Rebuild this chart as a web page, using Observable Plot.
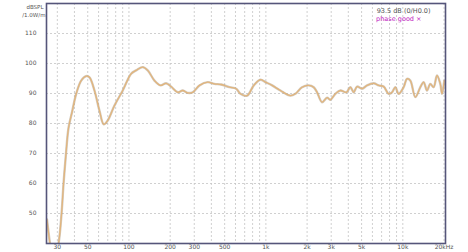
<!DOCTYPE html>
<html>
<head>
<meta charset="utf-8">
<script src="https://cdn.jsdelivr.net/npm/d3@7"></script>
<script src="https://cdn.jsdelivr.net/npm/@observablehq/plot@0.6"></script>
<style>
  html, body { margin: 0; padding: 0; background: #fff; }
  #chart svg { display: block; }
</style>
</head>
<body>
<div id="chart"></div>
<script>
// Frequency (Hz)
const freqs = [25.2, 26.5, 28.1, 30.6, 32.2, 33.3, 34.7, 36.2, 38.5, 41.2, 44.8, 48.7, 51.5, 56.0, 60.9, 65.5, 70.0, 78.4, 90.1,
  103.8, 112.9, 126.2, 137.2, 153.6, 169.9, 186.9, 203.2, 227.2, 247.1, 268.8, 292.3, 327.1, 376.0, 420.9, 471.1, 541.9, 606.5,
  651.8, 729.6, 815.4, 912.6, 992.5, 1110.8, 1276.7, 1509.6, 1642.3, 1837.7, 2054, 2234, 2366, 2572, 2799, 2958, 3217, 3500,
  3871, 4140, 4376, 4633, 5039, 5482, 6124, 6662, 7245, 7882, 8345, 8819, 9322, 10139, 10734, 11345, 12341, 13424, 14190,
  15023, 15880, 16786, 17772, 18786, 19330, 20090];
// SPL (dB)
const spl = [48, 40, 33, 40, 50, 60, 70, 78.5, 84, 89.9, 94.3, 95.8, 95.4, 91, 84.3, 79.7, 81, 86, 91,
  96.6, 97.7, 98.8, 97.7, 94.3, 92.7, 93.4, 92.3, 90.4, 91, 90.2, 90.4, 92.7, 93.8, 93.2, 93, 92.1, 91.6,
  89.9, 89.3, 92.7, 94.6, 93.8, 92.7, 91, 89.3, 89.9, 92.1, 92.7, 92.1, 90.4, 87.1, 88.6, 87.9, 89.9, 91,
  90.4, 92.1, 90.4, 92.3, 91.6, 92.7, 93.4, 92.7, 92.3, 89.9, 90.4, 92.1, 89.9, 92.1, 94.9, 94.3, 88.8, 92.1, 93.8,
  91, 93.2, 92.1, 96, 93.2, 89.9, 94.3];

const xTickValues = [30, 50, 100, 200, 300, 500, 1000, 2000, 3000, 5000, 10000, 20000];
const xTickLabels = ["30", "50", "100", "200", "300", "500", "1k", "2k", "3k", "5k", "10k", "20kHz"];
const xGridValues = [30, 40, 50, 60, 70, 80, 90, 100, 200, 300, 400, 500, 600, 700, 800, 900,
  1000, 2000, 3000, 4000, 5000, 6000, 7000, 8000, 9000, 10000, 20000];
const yTickValues = [50, 60, 70, 80, 90, 100, 110];
const yUnitLines = ["dBSPL", "/1.0W/m"];
const infoLine = "93.5 dB (0/H0.0)";
const phaseLine = "phase good ×";

const data = freqs.map((f, i) => ({f, db: spl[i]}));
const xTicks = xTickValues.map((v, i) => ({v, label: xTickLabels[i]}));

const plot = Plot.plot({
  width: 468,
  height: 252,
  marginLeft: 46,
  marginRight: 23,
  marginTop: 3,
  marginBottom: 9,
  style: {fontFamily: "'DejaVu Sans', Verdana, sans-serif", fontSize: "6px", background: "#fff", color: "#555"},
  x: {type: "log", domain: [25, 20500], axis: null},
  y: {domain: [40, 120]},
  marks: [
    Plot.gridX(xGridValues, {stroke: "#c4c4c4", strokeOpacity: 1, strokeDasharray: "2,2", strokeWidth: 0.8}),
    Plot.gridY(yTickValues, {stroke: "#c4c4c4", strokeOpacity: 1, strokeDasharray: "2,2", strokeWidth: 0.8}),
    Plot.text(xTicks, {x: "v", text: "label", frameAnchor: "bottom", dy: 5, fontSize: 6, fill: "#555"}),
    Plot.axisY(yTickValues, {tickSize: 0, tickPadding: 10, label: null, fill: "#555", fontSize: 6}),
    Plot.line(data, {x: "f", y: "db", stroke: "#a89a88", strokeWidth: 2.4, strokeOpacity: 0.5, curve: "catmull-rom", clip: true}),
    Plot.line(data, {x: "f", y: "db", stroke: "#e2b57c", strokeWidth: 1.3, curve: "catmull-rom", clip: true}),
    Plot.frame({stroke: "#55557a", strokeWidth: 1.6}),
    Plot.text([yUnitLines[0]], {frameAnchor: "top-left", dx: -3, dy: 2, textAnchor: "end", fontSize: 5.5, fill: "#555"}),
    Plot.text([yUnitLines[1]], {frameAnchor: "top-left", dx: -1, dy: 10, textAnchor: "end", fontSize: 5.5, fill: "#555"}),
    Plot.text([infoLine], {frameAnchor: "top-right", dx: -15, dy: 5, textAnchor: "end", fontSize: 6.5, fill: "#555"}),
    Plot.text([phaseLine], {frameAnchor: "top-right", dx: -24, dy: 13, textAnchor: "end", fontSize: 6.5, fill: "#c020c0"})
  ]
});
document.getElementById("chart").appendChild(plot);
</script>
</body>
</html>
